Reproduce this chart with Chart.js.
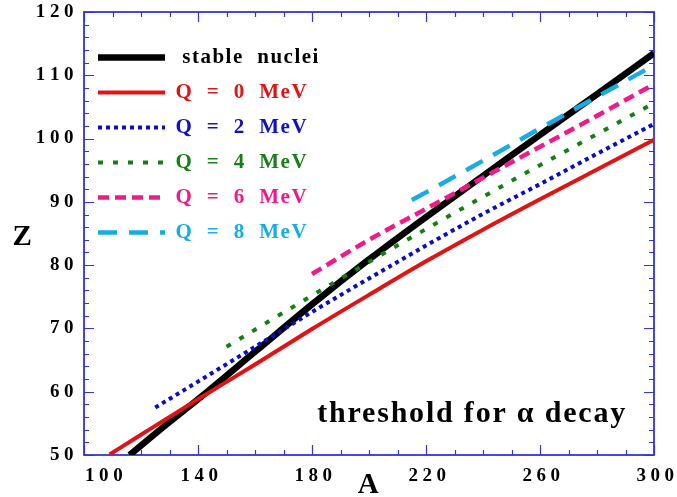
<!DOCTYPE html>
<html>
<head>
<meta charset="utf-8">
<script src="https://cdn.jsdelivr.net/npm/chart.js@4/dist/chart.umd.min.js"></script>
<style>
  html, body { margin: 0; padding: 0; background: #fff; }
  canvas { display: block; }
</style>
</head>
<body>
<canvas id="chart" width="677" height="497"></canvas>
<script>
// stable nuclei line and alpha-decay thresholds in the (A, Z) plane
const stableA = [116, 130, 140, 160, 180, 200, 220, 240, 260, 280, 300];
const stableZ = [50, 55.2, 58.8, 66.3, 73.8, 80.9, 87.6, 94.1, 100.6, 107.0, 113.5];
const q0A = [109, 120, 140, 160, 180, 200, 220, 240, 260, 280, 300];
const q0Z = [50.1, 53.2, 58.8, 64.3, 69.9, 75.3, 80.6, 85.6, 90.4, 95.1, 99.8];
const q2A = [125, 140, 160, 180, 200, 220, 240, 260, 280, 300];
const q2Z = [57.5, 61.6, 67.1, 72.6, 77.9, 83.1, 88.1, 92.8, 97.6, 102.3];
const q4A = [150, 160, 180, 200, 220, 240, 260, 280, 300];
const q4Z = [67.1, 69.8, 75.2, 80.5, 85.7, 90.8, 95.8, 100.7, 105.6];
const q6A = [180, 200, 220, 240, 260, 280, 300];
const q6Z = [78.6, 84.0, 88.9, 93.8, 98.7, 103.6, 108.6];
const q8A = [215, 220, 240, 260, 280, 300];
const q8Z = [90.3, 91.5, 96.5, 101.6, 106.6, 111.6];

const seriesLabels = [' stable  nuclei', 'Q  =  0  MeV', 'Q  =  2  MeV', 'Q  =  4  MeV', 'Q  =  6  MeV', 'Q  =  8  MeV'];
const xTickLabels = [100, 140, 180, 220, 260, 300];
const yTickLabels = [50, 60, 70, 80, 90, 100, 110, 120];

const lineColors = ['#000000', '#e01414', '#0c0cc8', '#138013', '#f01a8c', '#16ade6'];
const textColors = ['#000000', '#e01414', '#1010c8', '#1a7f1a', '#ee1a8c', '#16ade6'];
const lineWidths = [6.5, 4, 4, 4, 4.5, 4.5];
const lineDashes = [[], [], [4, 4], [5, 10], [11, 6], [19, 12]];
const frameColor = '#3434d8';
const serif = "'Liberation Serif', 'Times New Roman', serif";

const toPoints = (xs, ys) => xs.map((v, i) => ({ x: v, y: ys[i] }));
const seriesData = [
  toPoints(stableA, stableZ),
  toPoints(q0A, q0Z),
  toPoints(q2A, q2Z),
  toPoints(q4A, q4Z),
  toPoints(q6A, q6Z),
  toPoints(q8A, q8Z)
];

const spaced = (v) => String(v).split('').join('\u200A');

// frame, inner ticks, axis texts and annotation
const framePlugin = {
  id: 'frame',
  beforeDraw(chart) {
    chart.ctx.letterSpacing = '1.5px';
  },
  beforeDatasetsDraw(chart) {
    const { ctx, chartArea: a, scales: { x, y } } = chart;
    ctx.save();
    ctx.strokeStyle = frameColor;
    ctx.lineWidth = 1.2;
    ctx.beginPath();
    for (let v = 100; v <= 300; v += 10) {
      const px = Math.round(x.getPixelForValue(v)) + 0.5;
      const len = xTickLabels.includes(v) ? 10 : 5;
      ctx.moveTo(px, a.bottom); ctx.lineTo(px, a.bottom - len);
      ctx.moveTo(px, a.top); ctx.lineTo(px, a.top + len);
    }
    for (let v = 50; v <= 120; v += 2) {
      const py = Math.round(y.getPixelForValue(v)) + 0.5;
      const len = yTickLabels.includes(v) ? 10 : 5;
      ctx.moveTo(a.left, py); ctx.lineTo(a.left + len, py);
      ctx.moveTo(a.right, py); ctx.lineTo(a.right - len, py);
    }
    ctx.stroke();
    ctx.lineWidth = 1.8;
    ctx.strokeRect(a.left, a.top, a.right - a.left, a.bottom - a.top);
    ctx.restore();
  },
  afterDraw(chart) {
    const { ctx, chartArea: a, scales: { x } } = chart;
    ctx.save();
    ctx.fillStyle = '#000';
    ctx.textBaseline = 'middle';
    ctx.font = `bold 19px ${serif}`;
    xTickLabels.forEach((v, i) => {
      ctx.textAlign = i === 0 ? 'left' : 'center';
      ctx.fillText(spaced(v), x.getPixelForValue(v) + (i === 0 ? 1 : 2), a.bottom + 21);
    });
    ctx.textAlign = 'center';
    ctx.font = `bold 29px ${serif}`;
    ctx.fillText('A', (a.left + a.right) / 2, a.bottom + 31);
    ctx.fillText('Z', 23, 238);
    ctx.letterSpacing = '1.8px';
    ctx.textAlign = 'right';
    ctx.textBaseline = 'alphabetic';
    ctx.font = `bold 30px ${serif}`;
    ctx.fillText('threshold for \u03B1 decay', a.right - 27, a.bottom - 33);
    ctx.restore();
  }
};

const datasets = seriesData.map((pts, i) => ({
  label: seriesLabels[i],
  data: pts,
  borderColor: lineColors[i],
  backgroundColor: lineColors[i],
  borderWidth: lineWidths[i],
  borderDash: lineDashes[i],
  borderCapStyle: 'butt',
  pointRadius: 0,
  pointStyle: 'line',
  fill: false,
  cubicInterpolationMode: 'monotone',
  order: i === 0 ? 1 : 0
}));

new Chart(document.getElementById('chart'), {
  type: 'line',
  data: { datasets },
  plugins: [framePlugin],
  options: {
    responsive: false,
    animation: false,
    devicePixelRatio: 1,
    layout: { padding: { left: 0, right: 23, top: 12, bottom: 0 } },
    plugins: {
      tooltip: { enabled: false },
      legend: {
        position: 'chartArea',
        align: 'start',
        title: { display: true, text: ' ', padding: { top: 15, bottom: 0 }, font: { size: 15 } },
        labels: {
          usePointStyle: true,
          pointStyleWidth: 67,
          padding: 14,
          font: { family: serif, size: 21, weight: 'bold' },
          generateLabels: (chart) => chart.data.datasets.map((ds, i) => ({
            text: ds.label,
            fontColor: textColors[i],
            strokeStyle: ds.borderColor,
            fillStyle: ds.borderColor,
            lineWidth: ds.borderWidth,
            lineDash: ds.borderDash,
            lineCap: 'butt',
            pointStyle: 'line',
            hidden: false,
            datasetIndex: i
          }))
        }
      }
    },
    scales: {
      x: {
        type: 'linear',
        min: 100,
        max: 300,
        grid: { display: false },
        border: { display: false },
        ticks: { display: false },
        afterFit: (scale) => { scale.height = 42; }
      },
      y: {
        type: 'linear',
        min: 50,
        max: 120,
        grid: { display: false, drawTicks: false },
        border: { display: false },
        ticks: {
          stepSize: 10,
          padding: 9,
          color: '#000',
          font: { family: serif, size: 19, weight: 'bold' },
          callback: (v) => spaced(v)
        },
        afterFit: (scale) => {
          scale.width = 84;
          scale.paddingTop = 0;
          scale.paddingBottom = 0;
        }
      }
    }
  }
});
</script>
</body>
</html>
